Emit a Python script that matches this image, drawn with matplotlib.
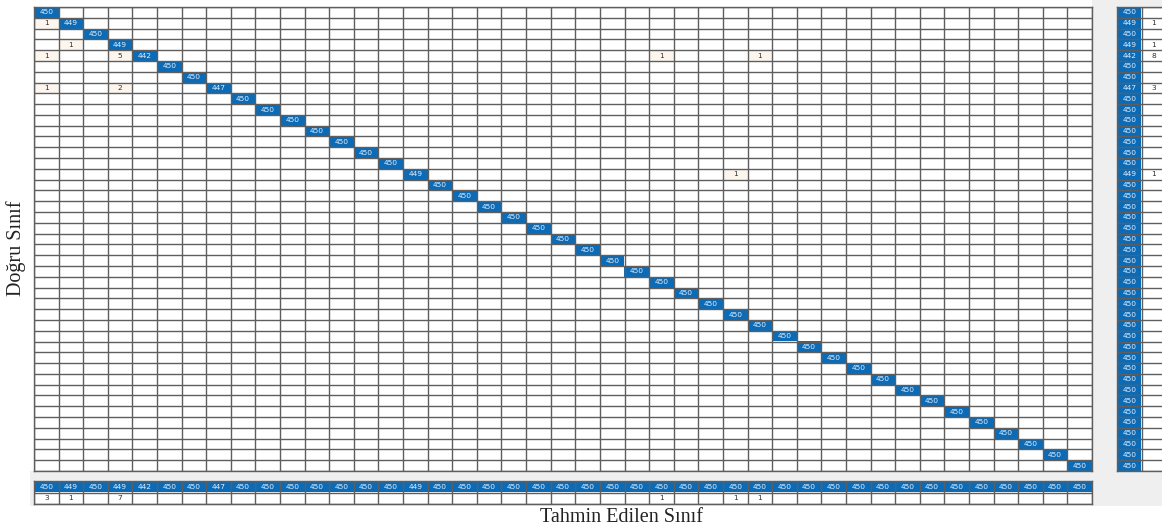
import numpy as np
import matplotlib
matplotlib.use("Agg")
import matplotlib.pyplot as plt
from matplotlib.patches import Rectangle

# ---------------- data ----------------
n_classes = 43
diag_vals = [450, 449, 450, 449, 442, 450, 450, 447, 450, 450,
             450, 450, 450, 450, 450, 449, 450, 450, 450, 450,
             450, 450, 450, 450, 450, 450, 450, 450, 450, 450,
             450, 450, 450, 450, 450, 450, 450, 450, 450, 450,
             450, 450, 450]
# off-diagonal entries: (true row, predicted column, count)
off_rows = [1, 3, 4, 4, 4, 4, 7, 7, 15]
off_cols = [0, 1, 0, 3, 25, 29, 0, 3, 28]
off_counts = [1, 1, 1, 5, 1, 1, 1, 2, 1]

xlabel = "Tahmin Edilen Sınıf"
ylabel = "Doğru Sınıf"

# ---------------- matrix ----------------
cm = np.zeros((n_classes, n_classes), dtype=int)
cm[np.arange(n_classes), np.arange(n_classes)] = diag_vals
for r, c, v in zip(off_rows, off_cols, off_counts):
    cm[r, c] = v

row_correct = np.diag(cm)
row_wrong = cm.sum(axis=1) - row_correct
col_correct = np.diag(cm)
col_wrong = cm.sum(axis=0) - col_correct

W, H = 1162, 531
DPI = 100
fig = plt.figure(figsize=(W / DPI, H / DPI), dpi=DPI)
fig.patch.set_facecolor("white")

BLUE = np.array([0.05, 0.42, 0.72])
PEACH = np.array([0.995, 0.965, 0.94])
GRAY_BG = "#efefef"
GRID = "#5e5e5e"


def px_axes(x0, y0, x1, y1):
    """axes from pixel box (image coordinates, y downward)."""
    a = fig.add_axes([x0 / W, 1 - y1 / H, (x1 - x0) / W, (y1 - y0) / H])
    a.set_zorder(2)
    return a


# light gray background panels (behind everything)
fig.patches.append(Rectangle((1092 / W, 1 - 506 / H), (W - 1092) / W, 506 / H,
                             transform=fig.transFigure, facecolor=GRAY_BG,
                             edgecolor="none", zorder=-5))
fig.patches.append(Rectangle((30 / W, 1 - 506 / H), (1092 - 30) / W, (506 - 471) / H,
                             transform=fig.transFigure, facecolor=GRAY_BG,
                             edgecolor="none", zorder=-5))


def draw_grid(ax, nrows, ncols, rgb, vals, textcolors):
    ax.imshow(rgb, aspect="auto", interpolation="nearest",
              extent=(-0.5, ncols - 0.5, nrows - 0.5, -0.5))
    ax.set_xlim(-0.5, ncols - 0.5)
    ax.set_ylim(nrows - 0.5, -0.5)
    ax.set_xticks(np.arange(-0.5, ncols, 1.0), minor=True)
    ax.set_yticks(np.arange(-0.5, nrows, 1.0), minor=True)
    ax.set_xticks([])
    ax.set_yticks([])
    ax.grid(which="minor", color=GRID, linewidth=1.0)
    ax.tick_params(which="both", length=0)
    for s in ax.spines.values():
        s.set_color(GRID)
        s.set_linewidth(1.0)
    for i in range(nrows):
        for j in range(ncols):
            v = vals[i][j]
            if v > 0:
                ax.text(j, i, str(v), ha="center", va="center",
                        fontsize=5.4, color=textcolors[i][j])


# ---------- main matrix ----------
ax = px_axes(34, 7, 1092, 471)
rgb = np.ones((n_classes, n_classes, 3))
tcol = [["#333333"] * n_classes for _ in range(n_classes)]
for i in range(n_classes):
    for j in range(n_classes):
        if i == j and cm[i, j] > 0:
            rgb[i, j] = BLUE
            tcol[i][j] = "#e3edf8"
        elif cm[i, j] > 0:
            rgb[i, j] = PEACH
draw_grid(ax, n_classes, n_classes, rgb, cm.tolist(), tcol)

# ---------- row summary (right) ----------
axr = px_axes(1117, 7, 1166, 471)
rs_vals = np.column_stack([row_correct, row_wrong])
rgb_r = np.ones((n_classes, 2, 3))
rgb_r[:, 0] = BLUE
tcol_r = [["#e3edf8", "#333333"] for _ in range(n_classes)]
draw_grid(axr, n_classes, 2, rgb_r, rs_vals.tolist(), tcol_r)

# ---------- column summary (bottom) ----------
axc = px_axes(34, 481, 1092, 504)
cs_vals = np.vstack([col_correct, col_wrong])
rgb_c = np.ones((2, n_classes, 3))
rgb_c[0] = BLUE
tcol_c = [["#e3edf8"] * n_classes, ["#333333"] * n_classes]
draw_grid(axc, 2, n_classes, rgb_c, cs_vals.tolist(), tcol_c)

# ---------- axis labels ----------
fig.text(621 / W, 1 - 518 / H, xlabel, ha="center", va="center",
         fontsize=14.5, family="Liberation Serif", color="#222222")
fig.text(16 / W, 1 - 248 / H, ylabel, ha="center", va="center", rotation=90,
         fontsize=14.5, family="Liberation Serif", color="#222222")

fig.savefig("out.png", dpi=DPI)
